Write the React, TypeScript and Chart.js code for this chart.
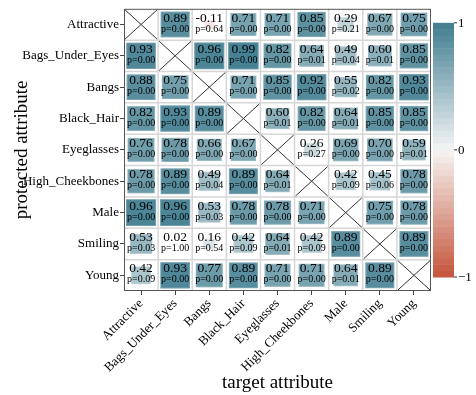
import React, { useEffect, useRef } from 'react';
import { Chart, registerables } from 'chart.js';
Chart.register(...registerables);

const TARGETS = ['Attractive', 'Bags_Under_Eyes', 'Bangs', 'Black_Hair', 'Eyeglasses', 'High_Cheekbones', 'Male', 'Smiling', 'Young'];
const PROTECTED = ['Attractive', 'Bags_Under_Eyes', 'Bangs', 'Black_Hair', 'Eyeglasses', 'High_Cheekbones', 'Male', 'Smiling', 'Young'];

// correlation values per protected attribute (row), one per target attribute (column); null = diagonal
const R_ATTRACTIVE = [null, 0.89, -0.11, 0.71, 0.71, 0.85, 0.29, 0.67, 0.75];
const R_BAGS = [0.93, null, 0.96, 0.99, 0.82, 0.64, 0.49, 0.60, 0.85];
const R_BANGS = [0.88, 0.75, null, 0.71, 0.85, 0.92, 0.55, 0.82, 0.93];
const R_BLACK = [0.82, 0.93, 0.89, null, 0.60, 0.82, 0.64, 0.85, 0.85];
const R_EYEGLASSES = [0.76, 0.78, 0.66, 0.67, null, 0.26, 0.69, 0.70, 0.59];
const R_CHEEK = [0.78, 0.89, 0.49, 0.89, 0.64, null, 0.42, 0.45, 0.78];
const R_MALE = [0.96, 0.96, 0.53, 0.78, 0.78, 0.71, null, 0.75, 0.78];
const R_SMILING = [0.53, 0.02, 0.16, 0.42, 0.64, 0.42, 0.89, null, 0.89];
const R_YOUNG = [0.42, 0.93, 0.77, 0.89, 0.71, 0.71, 0.64, 0.89, null];

// p-values
const P_ATTRACTIVE = [null, 0.00, 0.64, 0.00, 0.00, 0.00, 0.21, 0.00, 0.00];
const P_BAGS = [0.00, null, 0.00, 0.00, 0.00, 0.01, 0.04, 0.01, 0.00];
const P_BANGS = [0.00, 0.00, null, 0.00, 0.00, 0.00, 0.02, 0.00, 0.00];
const P_BLACK = [0.00, 0.00, 0.00, null, 0.01, 0.00, 0.01, 0.00, 0.00];
const P_EYEGLASSES = [0.00, 0.00, 0.00, 0.00, null, 0.27, 0.00, 0.00, 0.01];
const P_CHEEK = [0.00, 0.00, 0.04, 0.00, 0.01, null, 0.09, 0.06, 0.00];
const P_MALE = [0.00, 0.00, 0.03, 0.00, 0.00, 0.00, null, 0.00, 0.00];
const P_SMILING = [0.03, 1.00, 0.54, 0.09, 0.01, 0.09, 0.00, null, 0.00];
const P_YOUNG = [0.09, 0.00, 0.00, 0.00, 0.00, 0.00, 0.01, 0.00, null];

const R_ROWS = [R_ATTRACTIVE, R_BAGS, R_BANGS, R_BLACK, R_EYEGLASSES, R_CHEEK, R_MALE, R_SMILING, R_YOUNG];
const P_ROWS = [P_ATTRACTIVE, P_BAGS, P_BANGS, P_BLACK, P_EYEGLASSES, P_CHEEK, P_MALE, P_SMILING, P_YOUNG];

const COLORBAR_TICKS = [1, 0, -1];
const COLORBAR_LABELS = ['1', '0', '\u22121'];

const SERIF = "'Liberation Serif', 'DejaVu Serif', serif";
const POS = [68, 128, 146];
const NEG = [197, 88, 62];
const MID = [248, 248, 248];

function colorFor(v: number): string {
  const t = Math.min(1, Math.abs(v));
  const end = v >= 0 ? POS : NEG;
  const c = MID.map((m, i) => Math.round(m + (end[i] - m) * t));
  return `rgb(${c[0]},${c[1]},${c[2]})`;
}

const matrixPlugin = {
  id: 'matrixPlugin',
  afterDatasetsDraw(chart: any) {
    const { ctx, chartArea: a, scales } = chart;
    const x = scales.x;
    const y = scales.y;
    const cw = x.getPixelForValue(1) - x.getPixelForValue(0);
    const ch = y.getPixelForValue(1) - y.getPixelForValue(0);
    ctx.save();
    // inner grid lines
    ctx.strokeStyle = '#d6d6d6';
    ctx.lineWidth = 1.5;
    for (let i = 1; i < TARGETS.length; i++) {
      const px = x.getPixelForValue(i - 0.5);
      ctx.beginPath(); ctx.moveTo(px, a.top); ctx.lineTo(px, a.bottom); ctx.stroke();
    }
    for (let j = 1; j < PROTECTED.length; j++) {
      const py = y.getPixelForValue(j - 0.5);
      ctx.beginPath(); ctx.moveTo(a.left, py); ctx.lineTo(a.right, py); ctx.stroke();
    }
    const ds = chart.data.datasets[0].data;
    for (const d of ds) {
      const cx = x.getPixelForValue(d.x);
      const cy = y.getPixelForValue(d.y);
      if (d.v === null) {
        ctx.strokeStyle = '#333';
        ctx.lineWidth = 1;
        ctx.beginPath();
        ctx.moveTo(cx - cw / 2 + 1, cy - ch / 2 + 1); ctx.lineTo(cx + cw / 2 - 1, cy + ch / 2 - 1);
        ctx.moveTo(cx + cw / 2 - 1, cy - ch / 2 + 1); ctx.lineTo(cx - cw / 2 + 1, cy + ch / 2 - 1);
        ctx.stroke();
        continue;
      }
      const s = Math.sqrt(Math.abs(d.v));
      const w = s * cw * 0.9;
      const h = s * ch * 0.87;
      ctx.fillStyle = colorFor(d.v);
      ctx.fillRect(cx - w / 2, cy - h / 2, w, h);
      ctx.strokeStyle = 'rgba(255,255,255,0.2)';
      ctx.lineWidth = 1;
      ctx.strokeRect(cx - w / 2 + 0.5, cy - h / 2 + 0.5, w - 1, h - 1);
      ctx.fillStyle = '#000';
      ctx.textAlign = 'center';
      ctx.textBaseline = 'middle';
      ctx.font = `13.5px ${SERIF}`;
      ctx.fillText(d.v.toFixed(2), cx, cy - 6.5);
      ctx.font = `10px ${SERIF}`;
      ctx.fillText('p=' + d.p.toFixed(2), cx, cy + 4.5);
    }
    // outer border
    ctx.strokeStyle = '#555';
    ctx.lineWidth = 1;
    ctx.strokeRect(a.left + 0.5, a.top + 0.5, a.right - a.left - 1, a.bottom - a.top - 1);

    // colorbar
    const bx = a.right + 2;
    const bw = 21;
    const top = a.top + 14;
    const bottom = a.bottom - 14;
    const half = (bottom - top) / 2;
    const n = 20;
    const bandH = half / n;
    for (let i = 0; i < n; i++) {
      ctx.fillStyle = colorFor(1 - i / n);
      ctx.fillRect(bx, top + i * bandH, bw, bandH + 0.5);
      ctx.fillStyle = colorFor(-1 + i / n);
      ctx.fillRect(bx, bottom - (i + 1) * bandH, bw, bandH + 0.5);
    }
    ctx.strokeStyle = '#333';
    ctx.fillStyle = '#000';
    ctx.font = `13px ${SERIF}`;
    ctx.textAlign = 'left';
    ctx.textBaseline = 'middle';
    COLORBAR_TICKS.forEach((t, i) => {
      const py = top + (1 - t) * half;
      ctx.beginPath(); ctx.moveTo(bx + bw, py); ctx.lineTo(bx + bw + 3, py); ctx.stroke();
      ctx.fillText(COLORBAR_LABELS[i], bx + bw + 4, py + 1);
    });
    ctx.restore();
  },
};

export default function App() {
  const ref = useRef<HTMLCanvasElement>(null);
  useEffect(() => {
    document.body.style.margin = '0';
    const points: any[] = [];
    R_ROWS.forEach((row, j) => row.forEach((v, i) => points.push({ x: i, y: j, v, p: P_ROWS[j][i] })));
    const idx = TARGETS.map((_, i) => ({ value: i }));
    const chart = new Chart(ref.current!, {
      type: 'scatter',
      data: { datasets: [{ data: points, pointRadius: 0, pointHoverRadius: 0 }] },
      options: {
        animation: false,
        responsive: false,
        events: [],
        layout: { padding: { top: 2, right: 45, left: 0, bottom: 0 } },
        plugins: { legend: { display: false }, tooltip: { enabled: false } },
        scales: {
          x: {
            type: 'linear',
            min: -0.5,
            max: 8.5,
            afterBuildTicks: (s: any) => { s.ticks = idx.map((t) => ({ ...t })); },
            afterFit: (s: any) => { s.height = 104; },
            grid: { drawOnChartArea: false, drawTicks: true, tickLength: 4, color: '#444' },
            border: { display: false },
            ticks: {
              autoSkip: false, minRotation: 45, maxRotation: 45, padding: 1, color: '#000',
              font: { family: SERIF, size: 13 },
              callback: (v: any) => TARGETS[v],
            },
            title: { display: true, text: 'target attribute', color: '#000', font: { family: SERIF, size: 19 }, padding: { top: 0, bottom: 1 } },
          },
          y: {
            type: 'linear',
            min: -0.5,
            max: 8.5,
            reverse: true,
            afterBuildTicks: (s: any) => { s.ticks = idx.map((t) => ({ ...t })); },
            afterFit: (s: any) => { s.width = 124; },
            grid: { drawOnChartArea: false, drawTicks: true, tickLength: 4, color: '#444' },
            border: { display: false },
            ticks: {
              autoSkip: false, padding: 1, color: '#000',
              font: { family: SERIF, size: 13 },
              callback: (v: any) => PROTECTED[v],
            },
            title: { display: true, text: 'protected attribute', color: '#000', font: { family: SERIF, size: 19 }, padding: { top: 11, bottom: 0 } },
          },
        },
      },
      plugins: [matrixPlugin],
    } as any);
    return () => chart.destroy();
  }, []);
  return (
    <div style={{ width: 476, height: 395 }}>
      <canvas ref={ref} width={476} height={395} style={{ display: 'block' }} />
    </div>
  );
}
